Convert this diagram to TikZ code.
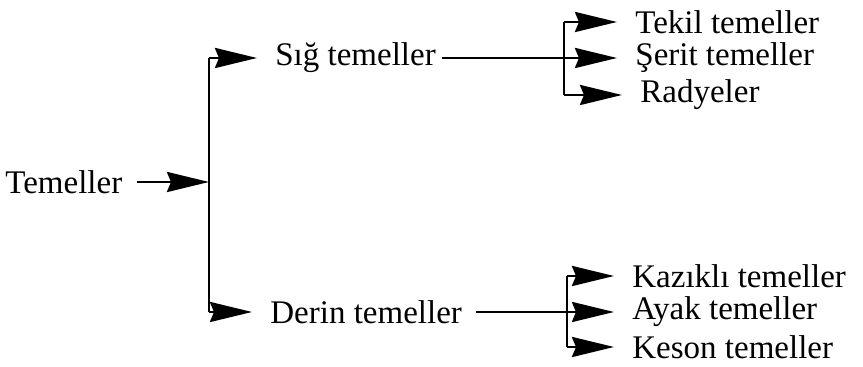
\documentclass[tikz,border=0pt]{standalone}
\usepackage{fontspec}
\setmainfont{Liberation Serif}
\usetikzlibrary{arrows.meta}

\begin{document}
\begin{tikzpicture}[x=0.5pt,y=-0.5pt,
    lbl/.style={anchor=west,inner sep=0pt,font=\fontsize{16.5}{19}\selectfont},
    bar/.style={line width=1.4pt},
    arr/.style={bar,-{Stealth[length=21pt,width=10pt,inset=2pt]},shorten >=9pt}]
    \useasboundingbox (0,0) rectangle (863,367);
    \node[lbl] (tml) at (5,182) {Temeller};
    \node[lbl] (sig) at (275,58) {Sığ temeller};
    \node[lbl] (derin) at (270,312) {Derin temeller};
    \node[lbl] (tekil) at (635,22) {Tekil temeller};
    \node[lbl] (serit) at (635,58) {Şerit temeller};
    \node[lbl] (radye) at (640,95) {Radyeler};
    \node[lbl] (kazik) at (632,276) {Kazıklı temeller};
    \node[lbl] (ayak) at (632,312) {Ayak temeller};
    \node[lbl] (keson) at (632,347) {Keson temeller};
    \coordinate (j0) at (209,182);
    \coordinate (j0t) at (209,58);
    \coordinate (j0b) at (209,312);
    \coordinate (j1t) at (564,22);
    \coordinate (j1b) at (564,95);
    \coordinate (j2t) at (567,276);
    \coordinate (j2b) at (567,347);
    % from root to the bar
    \draw[arr,shorten <=7pt,shorten >=0pt] (tml) -- (j0);
    % vertical lines
    \draw[bar] (j0t) -- (j0b);
    \draw[bar] (j1t) -- (j1b);
    \draw[bar] (j2t) -- (j2b);
    % shallow and deep
    \draw[arr] (j0t) -- (sig);
    \draw[arr] (j0b) -- (derin);
    % shallow branches
    \draw[arr,shorten <=3pt] (sig) -- (serit);
    \draw[arr] (j1t) -- (tekil);
    \draw[arr] (j1b) -- (radye);
    % deep branches
    \draw[arr,shorten <=7pt] (derin) -- (ayak);
    \draw[arr] (j2t) -- (kazik);
    \draw[arr] (j2b) -- (keson);
\end{tikzpicture}
\end{document}
